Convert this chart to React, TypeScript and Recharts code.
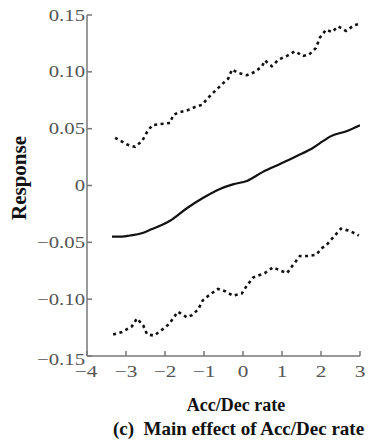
import React from 'react';
import { LineChart, Line, XAxis, YAxis, Label } from 'recharts';

// values
const upperX = [-3.28, -2.97, -2.77, -2.59, -2.46, -2.33, -2.13, -1.87, -1.79, -1.67, -1.44, -1.23, -1.05, -0.9, -0.72, -0.54, -0.38, -0.28, -0.13, 0.1, 0.31, 0.49, 0.56, 0.74, 0.92, 1.13, 1.33, 1.54, 1.69, 1.87, 1.97, 2.13, 2.28, 2.44, 2.64, 2.85, 2.97];
const upperY = [0.042, 0.036, 0.034, 0.039, 0.047, 0.053, 0.054, 0.055, 0.062, 0.064, 0.066, 0.069, 0.071, 0.077, 0.083, 0.089, 0.094, 0.102, 0.099, 0.097, 0.1, 0.105, 0.11, 0.105, 0.111, 0.114, 0.118, 0.114, 0.115, 0.121, 0.13, 0.137, 0.135, 0.14, 0.136, 0.141, 0.142];

const meanX = [-3.36, -3.1, -2.9, -2.6, -2.38, -2.1, -1.87, -1.44, -1.03, -0.59, -0.26, 0.1, 0.51, 0.95, 1.38, 1.79, 2.05, 2.23, 2.67, 3.0];
const meanY = [-0.045, -0.045, -0.044, -0.042, -0.039, -0.035, -0.031, -0.02, -0.011, -0.003, 0.001, 0.004, 0.012, 0.019, 0.026, 0.033, 0.039, 0.043, 0.048, 0.053];

const lowerX = [-3.33, -3.1, -2.85, -2.72, -2.56, -2.46, -2.28, -2.08, -1.9, -1.67, -1.44, -1.31, -1.15, -1.03, -0.85, -0.64, -0.46, -0.26, -0.03, 0.1, 0.26, 0.41, 0.56, 0.77, 0.97, 1.13, 1.28, 1.46, 1.67, 1.87, 2.03, 2.15, 2.33, 2.51, 2.74, 2.97];
const lowerY = [-0.131, -0.129, -0.124, -0.117, -0.123, -0.131, -0.132, -0.127, -0.122, -0.111, -0.116, -0.114, -0.109, -0.101, -0.096, -0.091, -0.093, -0.097, -0.095, -0.088, -0.081, -0.079, -0.077, -0.072, -0.075, -0.077, -0.07, -0.062, -0.062, -0.061, -0.055, -0.052, -0.045, -0.038, -0.04, -0.044];

const xTicks = [-4, -3, -2, -1, 0, 1, 2, 3];
const yTicks = [-0.15, -0.1, -0.05, 0, 0.05, 0.1, 0.15];

const toPoints = (xs: number[], ys: number[]) => xs.map((x, i) => ({ x, y: ys[i] }));

const upper = toPoints(upperX, upperY);
const mean = toPoints(meanX, meanY);
const lower = toPoints(lowerX, lowerY);

const SERIF = "'Liberation Serif', 'Times New Roman', 'DejaVu Serif', serif";
const AXIS = '#777';
const TICK_TEXT = '#555';

const fmtX = (v: number) => (v < 0 ? '\u2212' + Math.abs(v) : String(v));
const fmtY = (v: number) => {
  if (v === 0) return '0';
  const s = Math.abs(v).toFixed(2);
  return v < 0 ? '\u2212' + s : s;
};

function XTick(props: any) {
  const { x, y, payload } = props;
  const dx = payload.value === -4 ? -1 : 0;
  return (
    <g>
      <line x1={x} y1={y} x2={x} y2={y - 5} stroke={AXIS} strokeWidth={1.5} />
      <g transform={`translate(${x + dx},${y + 21}) scale(1.25,1)`}>
        <text x={0} y={0} textAnchor="middle" style={{ fontFamily: SERIF }} fontSize={17} fill={TICK_TEXT}>
          {fmtX(payload.value)}
        </text>
      </g>
    </g>
  );
}

function YTick(props: any) {
  const { x, y, payload } = props;
  const dy = payload.value === -0.15 ? 3 : 0;
  return (
    <g>
      <line x1={x} y1={y} x2={x + 5} y2={y} stroke={AXIS} strokeWidth={1.5} />
      <g transform={`translate(${x - 2},${y + 5.5 + dy}) scale(1.22,1)`}>
        <text x={0} y={0} textAnchor="end" style={{ fontFamily: SERIF }} fontSize={17} fill={TICK_TEXT}>
          {fmtY(payload.value)}
        </text>
      </g>
    </g>
  );
}

export default function App() {
  return (
    <div style={{ position: 'absolute', left: 0, top: 0, background: '#fff', fontFamily: SERIF }}>
      <LineChart width={374} height={446} margin={{ top: 15, right: 14, bottom: 60, left: 0 }}>
        <XAxis
          type="number"
          dataKey="x"
          domain={[-4, 3]}
          ticks={xTicks}
          allowDataOverflow
          height={30}
          stroke={AXIS}
          strokeWidth={1.5}
          tickLine={false}
          tickSize={0}
          tickMargin={0}
          tick={<XTick />}
          interval={0}
        >
          <Label
            content={() => (
              <text x={236} y={411} textAnchor="middle" style={{ fontFamily: SERIF }} fontWeight="bold" fontSize={18} fill="#111">
                Acc/Dec rate
              </text>
            )}
          />
        </XAxis>
        <YAxis
          type="number"
          dataKey="y"
          domain={[-0.15, 0.15]}
          ticks={yTicks}
          allowDataOverflow
          width={87}
          stroke={AXIS}
          strokeWidth={1.5}
          tickLine={false}
          tickSize={0}
          tickMargin={0}
          tick={<YTick />}
          interval={0}
        >
          <Label
            content={() => (
              <text x={19} y={178} transform="rotate(-90 19 178)" textAnchor="middle" dominantBaseline="central" style={{ fontFamily: SERIF }} fontWeight="bold" fontSize={21} fill="#111">
                Response
              </text>
            )}
          />
        </YAxis>
        <Line data={upper} dataKey="y" type="linear" stroke="#111" strokeWidth={2.6} strokeDasharray="3 3.5" dot={false} isAnimationActive={false} />
        <Line data={mean} dataKey="y" type="monotone" stroke="#111" strokeWidth={2.2} dot={false} isAnimationActive={false} />
        <Line data={lower} dataKey="y" type="linear" stroke="#111" strokeWidth={2.6} strokeDasharray="3 3.5" dot={false} isAnimationActive={false} />
      </LineChart>
      <div
        style={{
          position: 'absolute',
          left: 113,
          top: 418,
          fontFamily: SERIF,
          fontWeight: 'bold',
          fontSize: 19,
          color: '#111',
          whiteSpace: 'nowrap',
        }}
      >
        (c)&nbsp; Main effect of Acc/Dec rate
      </div>
    </div>
  );
}
